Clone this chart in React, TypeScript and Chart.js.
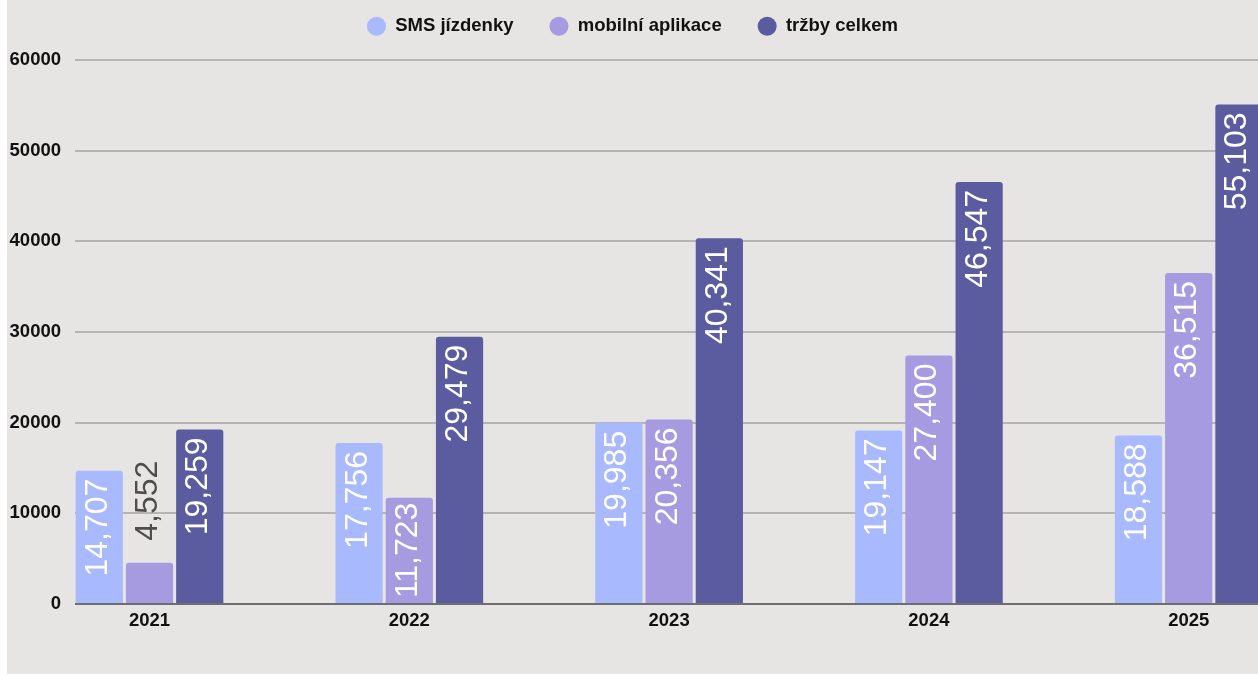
import React, { useEffect, useRef } from 'react';
import { Chart, registerables } from 'chart.js';

Chart.register(...registerables);

const YEARS = [2021, 2022, 2023, 2024, 2025];
const SMS_TICKETS = [14707, 17756, 19985, 19147, 18588];
const MOBILE_APP = [4552, 11723, 20356, 27400, 36515];
const TOTAL_REVENUE = [19259, 29479, 40341, 46547, 55103];
const SERIES_NAMES = ['SMS jízdenky', 'mobilní aplikace', 'tržby celkem'];
const SERIES_COLORS = ['#a9b9fd', '#a69ae0', '#5b5b9f'];
const Y_MIN = 0;
const Y_MAX = 60000;
const Y_STEP = 10000;

const FONT = '"Liberation Sans", Arial, Helvetica, sans-serif';

const barLabelPlugin = {
  id: 'barLabels',
  afterDatasetsDraw(chart: any) {
    const ctx = chart.ctx;
    ctx.save();
    ctx.font = `32px ${FONT}`;
    ctx.textBaseline = 'alphabetic';
    chart.data.datasets.forEach((ds: any, di: number) => {
      const meta = chart.getDatasetMeta(di);
      meta.data.forEach((bar: any, i: number) => {
        const v = ds.data[i].y;
        const text = Number(v).toLocaleString('en-US');
        const w = ctx.measureText(text).width;
        const h = bar.base - bar.y;
        ctx.save();
        if (w + 4 <= h) {
          const pad = Math.min(8, (h - w) / 2);
          ctx.translate(bar.x + 7.5, bar.y + pad);
          ctx.rotate(-Math.PI / 2);
          ctx.textAlign = 'right';
          ctx.fillStyle = '#ffffff';
        } else {
          ctx.translate(bar.x + 7.5, bar.y - 22);
          ctx.rotate(-Math.PI / 2);
          ctx.textAlign = 'left';
          ctx.fillStyle = '#4d4d4d';
        }
        ctx.fillText(text, 0, 0);
        ctx.restore();
      });
    });
    ctx.restore();
  },
};

export default function App() {
  const canvasRef = useRef<HTMLCanvasElement | null>(null);

  useEffect(() => {
    if (!canvasRef.current) return;
    const seriesValues = [SMS_TICKETS, MOBILE_APP, TOTAL_REVENUE];
    const chart = new Chart(canvasRef.current, {
      type: 'bar',
      data: {
        datasets: seriesValues.map((vals, si) => ({
          label: SERIES_NAMES[si],
          data: vals.map((v, i) => ({ x: YEARS[i], y: v })),
          backgroundColor: SERIES_COLORS[si],
          borderWidth: 0,
          borderRadius: 3,
          categoryPercentage: 0.58,
          barPercentage: 0.94,
        })),
      },
      options: {
        animation: false,
        responsive: false,
        layout: { padding: { top: 0, left: 0, right: 0, bottom: 35.8 } },
        plugins: {
          legend: {
            position: 'top',
            labels: {
              usePointStyle: true,
              pointStyle: 'circle',
              boxHeight: 13.4,
              boxWidth: 13.4,
              pointStyleWidth: 19,
              padding: 36,
              color: '#111111',
              font: { family: FONT, size: 18.5, weight: 'bold' },
            },
          },
          title: {
            display: true,
            text: ' ',
            position: 'top',
            weight: 500,
            font: { size: 10, lineHeight: 1 },
            padding: { top: 0, bottom: 4.5 },
          },
          tooltip: { enabled: false },
        },
        scales: {
          x: {
            type: 'linear',
            offset: false,
            min: 2020.7132,
            max: 2025.2667,
            grid: { display: false, drawTicks: false, offset: false },
            border: { display: false },
            ticks: {
              stepSize: 1,
              includeBounds: false,
              padding: 6,
              color: '#111111',
              font: { family: FONT, size: 18.5, weight: 'bold' },
              callback: (v: any) => String(v),
            },
          },
          y: {
            min: Y_MIN,
            max: Y_MAX,
            afterFit: (s: any) => {
              s.width = 68;
            },
            grid: {
              drawTicks: false,
              lineWidth: 2,
              color: (c: any) => (c.tick && c.tick.value === 0 ? '#6e6e6e' : '#b6b5b4'),
            },
            border: { display: false },
            ticks: {
              stepSize: Y_STEP,
              padding: 14,
              color: '#111111',
              font: { family: FONT, size: 18.5, weight: 'bold' },
              callback: (v: any) => String(v),
            },
          },
        },
      },
      plugins: [barLabelPlugin],
    } as any);
    return () => chart.destroy();
  }, []);

  return (
    <div
      style={{
        position: 'absolute',
        left: 7,
        top: -19,
        width: 1251,
        height: 693,
        background: '#e6e5e4',
      }}
    >
      <canvas ref={canvasRef} width={1251} height={693} style={{ display: 'block' }} />
    </div>
  );
}
